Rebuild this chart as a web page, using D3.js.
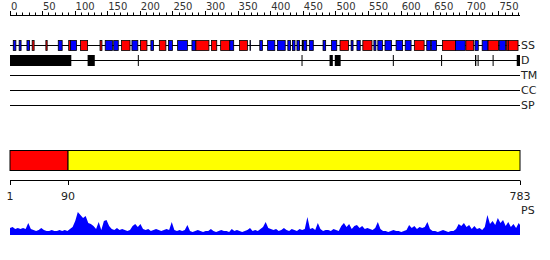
<!DOCTYPE html>
<html>
<head>
<meta charset="utf-8">
<script src="https://cdn.jsdelivr.net/npm/d3@7/dist/d3.min.js"></script>
<style>
  html, body { margin: 0; padding: 0; background: #fff; }
  svg { display: block; font-family: "DejaVu Sans", sans-serif; }
</style>
</head>
<body>
<div id="root"></div>
<script>
// sequence length and the two marked positions on the lower ruler
const seqLength = 783;
const rulerMarks = [1, 90, 783];

// secondary structure: [start, end, type]  (H = red, E = blue)
const ssSegments = [
  [6, 10, "E"], [15, 18, "E"], [27, 31, "E"], [35, 38, "H"], [56, 58, "H"],
  [75, 81, "E"], [91, 94, "H"], [94, 103, "E"], [109, 120, "H"], [139, 142, "H"],
  [147, 158, "E"], [160, 167, "E"], [172, 185, "H"], [188, 197, "E"], [201, 211, "H"],
  [217, 221, "E"], [230, 240, "H"], [244, 250, "E"], [258, 273, "E"], [280, 286, "E"],
  [286, 306, "H"], [310, 318, "H"], [324, 338, "H"], [338, 344, "E"], [353, 365, "H"],
  [369, 369, "E"], [384, 388, "E"], [396, 407, "E"], [411, 423, "E"], [427, 431, "E"],
  [434, 438, "E"], [441, 445, "E"], [449, 449, "E"], [451, 456, "E"], [460, 466, "E"],
  [481, 485, "E"], [494, 502, "E"], [507, 520, "H"], [524, 527, "E"], [533, 538, "E"],
  [542, 556, "H"], [559, 562, "E"], [565, 572, "E"], [576, 586, "E"], [593, 603, "E"],
  [607, 616, "E"], [621, 636, "H"], [640, 646, "E"], [647, 655, "E"], [664, 684, "H"],
  [684, 699, "E"], [700, 712, "H"], [714, 719, "E"], [725, 734, "E"], [734, 750, "H"],
  [751, 761, "E"], [762, 765, "H"], [765, 780, "H"],
];

// disordered regions: [start, end]
const disorderSegments = [
  [1, 95], [120, 131], [197, 198], [448, 448], [491, 496], [499, 508],
  [588, 588], [662, 662], [714, 716], [718, 719], [741, 741], [778, 783],
];

// domain bar: [start, end, colour name]
const domainBlocks = [[1, 90, "red"], [90, 783, "yellow"]];

// empty feature tracks
const emptyTracks = ["TM", "CC", "SP"];

// PS profile, one score every 4 residues starting at residue 1, last one at 783
const psScores = [
  7, 8, 6, 7, 6, 7, 6, 12, 6, 5, 4, 5, 7, 5, 4, 4, 5, 4, 4, 5,
  4, 5, 4, 6, 8, 14, 23, 20, 17, 19, 12, 11, 9, 6, 13, 5, 14, 15, 9, 6,
  5, 7, 5, 6, 5, 4, 5, 9, 11, 8, 11, 6, 5, 6, 4, 5, 6, 5, 4, 5,
  6, 5, 13, 5, 4, 5, 4, 5, 10, 4, 3, 4, 5, 4, 3, 4, 4, 6, 4, 3,
  4, 5, 4, 4, 3, 6, 4, 5, 4, 3, 4, 5, 7, 4, 5, 4, 6, 8, 13, 7,
  6, 5, 6, 4, 5, 7, 5, 4, 6, 5, 4, 6, 5, 6, 18, 6, 7, 5, 12, 6,
  4, 5, 5, 4, 6, 5, 4, 9, 12, 8, 11, 6, 9, 10, 7, 9, 6, 7, 6, 5,
  7, 13, 6, 4, 4, 3, 4, 5, 4, 4, 3, 4, 5, 10, 7, 9, 6, 8, 7, 8,
  13, 6, 4, 4, 3, 4, 5, 4, 3, 4, 4, 6, 11, 9, 12, 8, 10, 6, 9, 6,
  7, 5, 8, 20, 11, 14, 10, 17, 12, 15, 9, 13, 8, 11, 7, 12, 10,
];

const colours = { H: "#ff0000", E: "#0000ff", red: "#ff0000", yellow: "#ffff00" };

const width = 550;
const height = 260;

const x = d3.scaleLinear().domain([1, seqLength]).range([10, 520]);

const svg = d3.select("#root").append("svg")
  .attr("width", width)
  .attr("height", height);

// top ruler
const rulerTicks = d3.range(0, seqLength, 10);
const topAxis = svg.append("g");
topAxis.append("line")
  .attr("x1", x(1)).attr("x2", x(seqLength))
  .attr("y1", 15.5).attr("y2", 15.5)
  .attr("stroke", "#000");
topAxis.selectAll("line.tick")
  .data(rulerTicks)
  .join("line")
  .attr("class", "tick")
  .attr("x1", d => Math.round(x(Math.max(d, 1))) + 0.5)
  .attr("x2", d => Math.round(x(Math.max(d, 1))) + 0.5)
  .attr("y1", 15.5)
  .attr("y2", d => d % 50 === 0 ? 11 : 12.5)
  .attr("stroke", "#000");
topAxis.selectAll("text")
  .data(rulerTicks.filter(d => d % 50 === 0))
  .join("text")
  .attr("x", d => x(Math.max(d, 1)) + 1)
  .attr("y", 10)
  .attr("font-size", 10)
  .attr("fill", "#333")
  .text(d => d);

// track lines with labels on the right
const tracks = [
  { name: "SS", y: 45.5 },
  { name: "D", y: 60.5 },
  { name: "TM", y: 75.5 },
  { name: "CC", y: 90.5 },
  { name: "SP", y: 105.5 },
];

svg.selectAll("line.track")
  .data(tracks)
  .join("line")
  .attr("class", "track")
  .attr("x1", x(1)).attr("x2", x(seqLength))
  .attr("y1", d => d.y).attr("y2", d => d.y)
  .attr("stroke", "#000");

svg.selectAll("text.track")
  .data(tracks)
  .join("text")
  .attr("class", "track")
  .attr("x", x(seqLength) + 1)
  .attr("y", d => d.y)
  .attr("dy", "0.36em")
  .attr("font-size", 11)
  .attr("fill", "#222")
  .text(d => d.name);

// secondary structure boxes
svg.append("g").selectAll("rect")
  .data(ssSegments)
  .join("rect")
  .attr("x", d => x(d[0]))
  .attr("y", 40.5)
  .attr("width", d => Math.max(x(d[1]) - x(d[0]), 0.5))
  .attr("height", 10)
  .attr("fill", d => colours[d[2]])
  .attr("stroke", "#000")
  .attr("stroke-width", 0.8);

// disorder blocks
svg.append("g").selectAll("rect")
  .data(disorderSegments)
  .join("rect")
  .attr("x", d => x(d[0]))
  .attr("y", 55)
  .attr("width", d => Math.max(x(d[1]) - x(d[0]), 1))
  .attr("height", 11)
  .attr("fill", "#000");

// domain bar
svg.append("g").selectAll("rect")
  .data(domainBlocks)
  .join("rect")
  .attr("x", d => x(d[0]))
  .attr("y", 150.5)
  .attr("width", d => x(d[1]) - x(d[0]))
  .attr("height", 20)
  .attr("fill", d => colours[d[2]])
  .attr("stroke", "#000");

// lower ruler with marks
const lower = svg.append("g");
lower.append("line")
  .attr("x1", x(1)).attr("x2", x(seqLength))
  .attr("y1", 180.5).attr("y2", 180.5)
  .attr("stroke", "#000");
lower.selectAll("line.mark")
  .data(rulerMarks)
  .join("line")
  .attr("class", "mark")
  .attr("x1", d => Math.round(x(d)) + 0.5)
  .attr("x2", d => Math.round(x(d)) + 0.5)
  .attr("y1", 180.5).attr("y2", 185)
  .attr("stroke", "#000");
lower.selectAll("text")
  .data(rulerMarks)
  .join("text")
  .attr("x", d => x(d))
  .attr("y", 200)
  .attr("text-anchor", "middle")
  .attr("font-size", 11)
  .attr("fill", "#222")
  .text(d => d);

// PS profile
const psPoints = psScores.map((v, i) => [i === psScores.length - 1 ? seqLength : 1 + i * 4, v]);
const y = d3.scaleLinear().domain([0, 30]).range([235, 205]);
const area = d3.area()
  .x(d => x(d[0]))
  .y0(y(0))
  .y1(d => y(d[1]));

svg.append("path")
  .datum(psPoints)
  .attr("d", area)
  .attr("fill", "#0000ff");

svg.append("text")
  .attr("x", x(seqLength) + 1)
  .attr("y", 214)
  .attr("font-size", 11)
  .attr("fill", "#222")
  .text("PS");
</script>
</body>
</html>
